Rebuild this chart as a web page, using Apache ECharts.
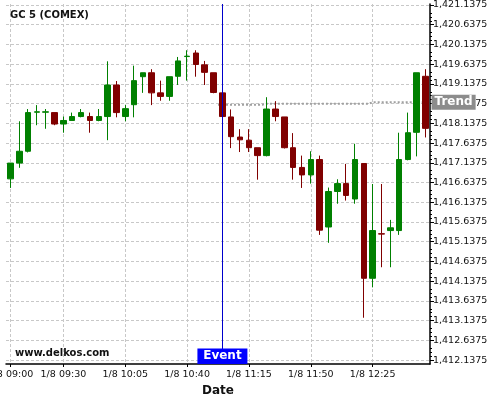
<!DOCTYPE html>
<html><head><meta charset="utf-8">
<script src="https://cdn.jsdelivr.net/npm/echarts@6/dist/echarts.min.js"></script>
<style>html,body{margin:0;padding:0;background:#fff}#c{width:500px;height:400px}</style>
</head><body><div id="c"></div>
<script>
const categories = ['1/8 09:00','1/8 09:05','1/8 09:10','1/8 09:15','1/8 09:20','1/8 09:25','1/8 09:30','1/8 09:35','1/8 09:40','1/8 09:45','1/8 09:50','1/8 09:55',
'1/8 10:00','1/8 10:05','1/8 10:10','1/8 10:15','1/8 10:20','1/8 10:25','1/8 10:30','1/8 10:35','1/8 10:40','1/8 10:45','1/8 10:50','1/8 10:55',
'1/8 11:00','1/8 11:05','1/8 11:10','1/8 11:15','1/8 11:20','1/8 11:25','1/8 11:30','1/8 11:35','1/8 11:40','1/8 11:45','1/8 11:50','1/8 11:55',
'1/8 12:00','1/8 12:05','1/8 12:10','1/8 12:15','1/8 12:20','1/8 12:25','1/8 12:30','1/8 12:35','1/8 12:40','1/8 12:45','1/8 12:50','1/8 12:55'];
const opens  = [1416.73,1417.13,1417.43,1418.42,1418.42,1418.41,1418.12,1418.21,1418.31,1418.31,1418.21,1418.31,
                1419.11,1418.31,1418.61,1419.32,1419.42,1418.91,1418.82,1419.33,1419.83,1419.92,1419.62,1419.42,
                1418.91,1418.30,1417.79,1417.71,1417.52,1417.32,1418.50,1418.30,1417.52,1417.02,1416.83,1417.22,
                1415.51,1416.41,1416.61,1416.22,1417.12,1414.21,1415.34,1415.42,1415.42,1417.22,1417.91,1419.33];
const closes = [1417.13,1417.43,1418.41,1418.43,1418.43,1418.12,1418.21,1418.31,1418.41,1418.21,1418.31,1419.11,
                1418.41,1418.51,1419.22,1419.42,1418.91,1418.82,1419.32,1419.72,1419.84,1419.63,1419.43,1418.92,
                1418.31,1417.80,1417.72,1417.52,1417.32,1418.50,1418.31,1417.52,1417.02,1416.83,1417.22,1415.43,
                1416.41,1416.61,1416.31,1417.22,1414.21,1415.42,1415.33,1415.49,1417.22,1417.90,1419.42,1418.01];
const lows   = [1416.50,1417.01,1417.40,1418.09,1418.00,1418.09,1417.90,1418.21,1418.29,1417.90,1418.19,1417.71,
                1418.29,1418.19,1418.29,1418.91,1418.60,1418.71,1418.71,1419.11,1419.22,1419.32,1419.11,1418.90,
                1418.31,1417.51,1417.41,1417.41,1416.71,1417.30,1418.19,1417.50,1416.71,1416.50,1416.61,1415.31,
                1415.11,1416.10,1416.18,1416.10,1413.21,1413.98,1414.49,1414.49,1415.31,1417.20,1417.30,1417.78];
const highs  = [1417.13,1418.19,1418.50,1418.60,1418.50,1418.41,1418.31,1418.41,1418.50,1418.41,1418.50,1419.71,
                1419.21,1418.60,1419.60,1419.42,1419.51,1419.22,1419.32,1419.82,1419.99,1419.99,1419.72,1419.42,
                1418.91,1418.49,1417.99,1417.99,1417.52,1418.80,1418.70,1418.30,1417.89,1417.32,1417.43,1417.32,
                1416.51,1416.72,1417.11,1417.62,1417.12,1416.60,1416.60,1415.69,1417.90,1418.41,1419.42,1419.51];
const trend  = [null,null,null,null,null,null,null,null,null,null,null,null,
                null,null,null,null,null,null,null,null,null,null,null,null,
                1418.61,1418.61,1418.61,1418.61,1418.61,1418.635,1418.635,1418.635,1418.635,1418.635,1418.635,1418.635,
                1418.635,1418.635,1418.635,1418.635,1418.635,1418.67,1418.67,1418.67,1418.67,1418.67,1418.67,1418.67];
const xLabelIndices = [0,6,13,20,27,34,41];
const yTickValues = [1412.1375,1412.6375,1413.1375,1413.6375,1414.1375,1414.6375,1415.1375,1415.6375,1416.1375,1416.6375,
                     1417.1375,1417.6375,1418.1375,1418.6375,1419.1375,1419.6375,1420.1375,1420.6375,1421.1375];
const eventTime = '1/8 11:00';
const yMin = 1412.0375, yMax = 1421.1625;

const candleData = categories.map((c, i) => [opens[i], closes[i], lows[i], highs[i]]);
const showIdx = (i) => xLabelIndices.indexOf(i) >= 0;
const fmt = (v) => Number(v).toLocaleString('en-US', {minimumFractionDigits: 4, maximumFractionDigits: 4});
const gridLine = {show: true, lineStyle: {color: '#c8c8c8', type: [3, 2], width: 1}};

const chart = echarts.init(document.getElementById('c'), null, {renderer: 'canvas'});
chart.setOption({
  animation: false,
  backgroundColor: '#fff',
  textStyle: {fontFamily: 'DejaVu Sans'},
  title: [
    {text: 'GC 5 (COMEX)', left: 10, top: 10, padding: 0, textStyle: {fontSize: 10, fontWeight: 'bold', color: '#111', fontFamily: 'DejaVu Sans'}},
    {text: 'www.delkos.com', left: 15, top: 348, padding: 0, textStyle: {fontSize: 10, fontWeight: 'bold', color: '#111', fontFamily: 'DejaVu Sans'}}
  ],
  grid: {left: 6, right: 70, top: 4, bottom: 36, containLabel: false, outerBoundsMode: 'none'},
  xAxis: {
    type: 'category', data: categories, boundaryGap: true,
    axisLine: {show: true, onZero: false, lineStyle: {color: '#000', width: 1.5}},
    axisTick: {show: true, interval: showIdx, alignWithLabel: true, length: 3, lineStyle: {color: '#000'}},
    axisLabel: {interval: showIdx, fontSize: 9.5, color: '#111', margin: 6, fontFamily: 'DejaVu Sans', hideOverlap: false},
    splitLine: Object.assign({interval: showIdx, alignWithLabel: true}, gridLine),
    name: 'Date', nameLocation: 'middle', nameGap: 20,
    nameTextStyle: {fontWeight: 'bold', fontSize: 12, color: '#111', fontFamily: 'DejaVu Sans'}
  },
  yAxis: {
    type: 'value', position: 'right', min: yMin, max: yMax, interval: 0.5,
    axisLine: {show: true, lineStyle: {color: '#000', width: 1.5}},
    axisTick: {show: true, length: 4, customValues: yTickValues, lineStyle: {color: '#000'}},
    minorTick: {show: true, splitNumber: 5, length: 2, lineStyle: {color: '#000'}},
    axisLabel: {customValues: yTickValues, formatter: fmt, fontSize: 9.5, color: '#111', margin: 3, fontFamily: 'DejaVu Sans'},
    splitLine: gridLine
  },
  series: [{
    type: 'line', data: trend, z: 2, step: 'middle',
    showSymbol: false, connectNulls: false,
    lineStyle: {color: '#a0a0a0', width: 2, type: 'dotted'},
    endLabel: {show: true, formatter: 'Trend', color: '#fff', fontWeight: 'bold', fontSize: 12,
      backgroundColor: '#8c8c8c', padding: [2, 3, 1, 3], distance: 6, fontFamily: 'DejaVu Sans'}
  }, {
    type: 'candlestick', data: candleData, z: 3, barWidth: 6,
    itemStyle: {color: '#008000', color0: '#800000', borderColor: '#008000', borderColor0: '#800000', borderWidth: 1},
    markLine: {
      silent: true, symbol: 'none', animation: false,
      label: {show: false},
      lineStyle: {color: '#0000cc', width: 1, type: 'solid'},
      data: [{xAxis: eventTime}]
    },
    markPoint: {
      silent: true, animation: false,
      data: [{
        coord: [eventTime, yMin], symbol: 'rect', symbolSize: [50, 15.5], symbolOffset: [0, -7.75],
        itemStyle: {color: '#0000ff'},
        label: {show: true, position: 'inside', formatter: 'Event', color: '#fff', fontWeight: 'bold', fontSize: 12, fontFamily: 'DejaVu Sans'}
      }]
    }
  }]
});
</script></body></html>
